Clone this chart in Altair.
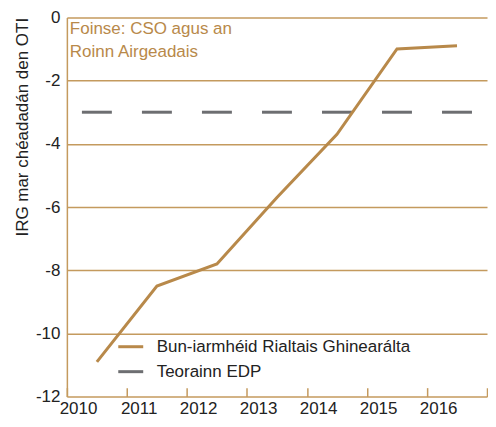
import altair as alt
import pandas as pd

years = ["2010", "2011", "2012", "2013", "2014", "2015", "2016"]
balance = [-10.9, -8.5, -7.8, -5.7, -3.7, -1.0, -0.9]
edp = [-3, -3, -3, -3, -3, -3, -3]
series_names = ["Bun-iarmhéid Rialtais Ghinearálta", "Teorainn EDP"]
series_colors = ["#b8894a", "#6d6e71"]
source_text = "Foinse: CSO agus an\nRoinn Airgeadais"
y_ticks = [-12, -10, -8, -6, -4, -2, 0]

gold = "#c49a5e"
font = "Liberation Sans"
fs = 17

df_bal = pd.DataFrame({"year": years, "value": balance, "series": series_names[0]})
df_edp = pd.DataFrame({"year": years, "value": edp, "series": series_names[1]})

x_enc = alt.X("year:N", sort=years, title=None,
              scale=alt.Scale(paddingInner=0, paddingOuter=0),
              axis=alt.Axis(labelAngle=0, offset=-9, ticks=True, tickSize=9,
                            tickBand="extent", tickColor=gold, tickWidth=1.5,
                            labelFontSize=fs, labelPadding=12,
                            labelColor="#222", labelFont=font, domain=False,
                            grid=False))
y_scale = alt.Scale(domain=[-12, 0], nice=False)

line = alt.Chart(df_bal).mark_line(strokeWidth=3).encode(
    x=x_enc,
    y=alt.Y("value:Q", scale=y_scale, title="IRG mar chéadadán den OTI",
            axis=alt.Axis(values=y_ticks, labelExpr="datum.value", ticks=False,
                          labelFontSize=fs, labelColor="#222", labelFont=font,
                          labelPadding=7, titleFontSize=fs, titleFontWeight="normal",
                          titleColor="#222", titleFont=font, titlePadding=4,
                          titleAnchor="end",
                          domainColor=gold, domainWidth=1.5, gridColor=gold,
                          gridWidth=1.5)),
    color=alt.Color("series:N", scale=alt.Scale(domain=series_names, range=series_colors),
                    legend=alt.Legend(title=None, orient="none", legendX=50, legendY=316,
                                      symbolType="stroke", symbolStrokeWidth=3,
                                      symbolSize=625, labelFontSize=fs, labelColor="#222",
                                      labelFont=font, rowPadding=3, labelOffset=12,
                                      labelLimit=0)),
)

ticks = alt.Chart(df_edp).mark_tick(thickness=3, size=30, color=series_colors[1],
                                    opacity=1).encode(
    x=alt.X("year:N", sort=years),
    y=alt.Y("value:Q", scale=y_scale),
)

source = alt.Chart(alt.Data(values=[{}])).mark_text(
    align="left", baseline="middle", fontSize=fs, color="#b8894a", font=font,
    lineBreak="\n", lineHeight=23,
).encode(x=alt.value(3), y=alt.value(12), text=alt.value(source_text))

chart = alt.layer(ticks, line, source).properties(
    width=421, height=380,
    padding={"left": 5, "top": 0, "right": 0, "bottom": 0},
).configure_view(stroke=None)

chart.save("out.html", embed_options={"renderer": "svg", "actions": False})
